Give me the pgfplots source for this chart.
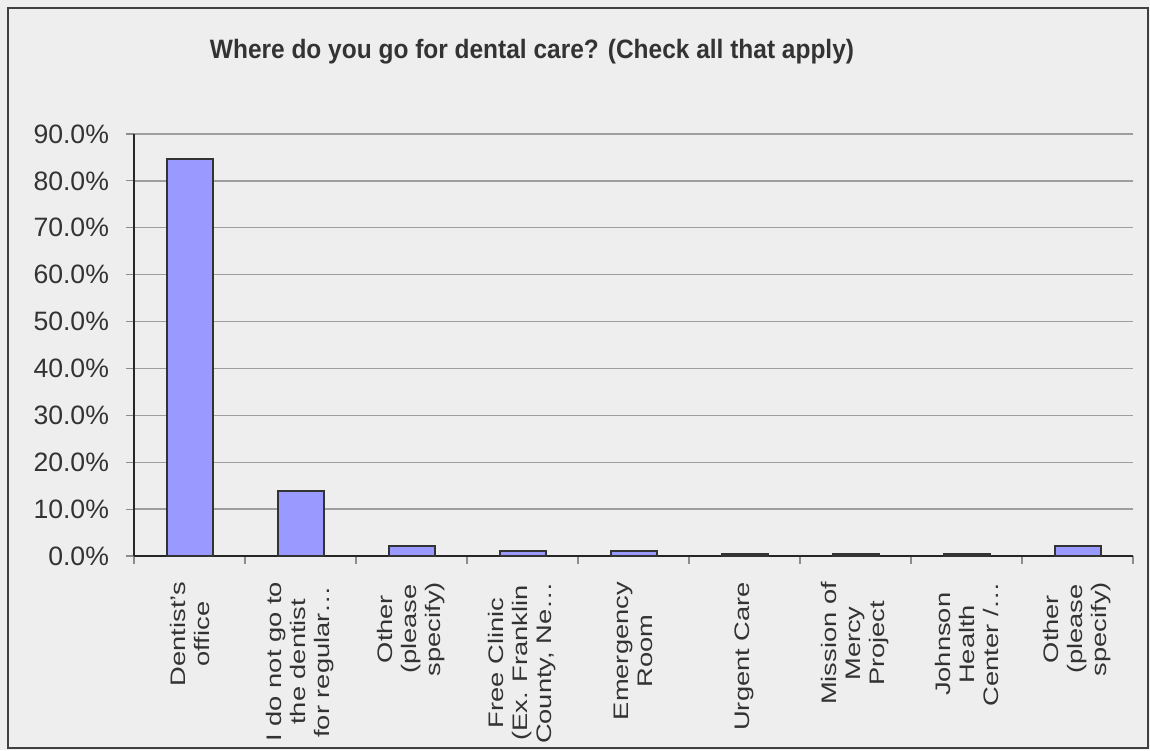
\documentclass[border=0pt]{standalone}
\usepackage{pgfplots}
\pgfplotsset{compat=1.18}
\usepackage{fontspec}
\setmainfont{Liberation Sans}
\newfontfamily\xlabfont[FakeStretch=1.3]{Liberation Sans}
\newfontfamily\titlefont[FakeStretch=0.92]{Liberation Sans}
\definecolor{bg}{HTML}{EEEEEE}
\definecolor{barfill}{HTML}{9999FF}
\definecolor{txt}{HTML}{333333}
\begin{document}
\begin{tikzpicture}
\useasboundingbox (0,0) rectangle (575pt,375pt);
\fill[bg] (0,0) rectangle (575pt,375pt);
\draw[color=black!75, line width=1.2pt] (4pt,1pt) rectangle (574pt,371pt);
\node[font=\titlefont\bfseries\fontsize{13.3}{15}\selectfont, text=txt] at (266pt,349pt) {Where do you go for dental care? (Check all that apply)};
\begin{axis}[
  at={(67pt,97pt)}, anchor=south west, scale only axis,
  width=499.5pt, height=211pt,
  xmin=-0.5, xmax=8.5, ymin=0, ymax=90,
  axis lines=left, axis line style={-, draw=black!85, line width=0.7pt},
  ytick={0,10,...,90},
  /pgf/number format/assume math mode=true,
  yticklabel={\pgfmathprintnumber[fixed,fixed zerofill,precision=1]{\tick}\%},
  yticklabel style={font=\fontsize{13.3}{15}\selectfont, text=txt, xshift=-5pt},
  ymajorgrids, grid style={draw=black!38, line width=0.7pt},
  tick align=outside, major tick length=4pt,
  tick style={draw=black!45, line width=0.6pt},
  xtick={-0.5,0.5,...,8.5}, xticklabels={},
  extra x ticks={0,1,2,3,4,5,6,7,8},
  extra x tick labels={{Dentist’s\\office},{I do not go to\\the dentist\\for regular…},{Other\\(please\\specify)},{Free Clinic\\(Ex. Franklin\\County, Ne…},{Emergency\\Room},{Urgent Care},{Mission of\\Mercy\\Project},{Johnson\\Health\\Center /…},{Other\\(please\\specify)}},
  extra x tick style={major tick length=0pt, xticklabel style={yshift=-9.5pt, rotate=90, anchor=east, align=center, font=\xlabfont\fontsize{10.5}{12}\selectfont, text=txt}},
  clip=false,
]
\addplot[ybar, bar width=23pt, fill=barfill, draw=black!80, line width=1pt] coordinates {
(0,84.6) (1,13.8) (2,2.2) (3,1.1) (4,1.1) (5,0.4) (6,0.4) (7,0.4) (8,2.2)
};
\end{axis}
\end{tikzpicture}
\end{document}
